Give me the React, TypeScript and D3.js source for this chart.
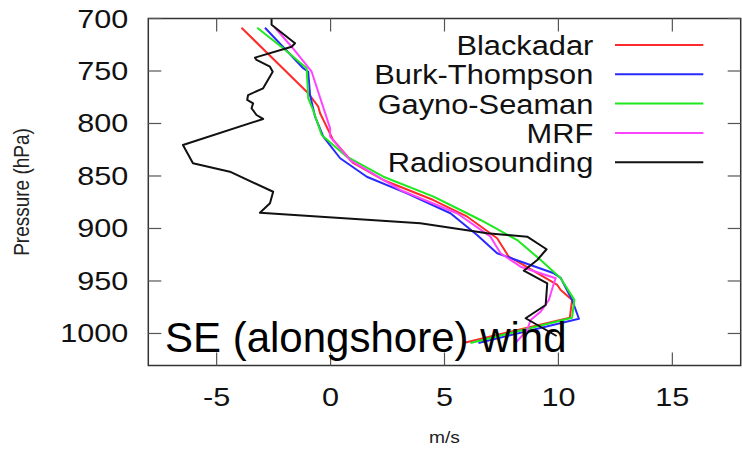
import React from 'react';
import * as d3 from 'd3';

// ---- data (wind speed m/s, pressure hPa) ----
const xTicks = [-5, 0, 5, 10, 15];
const yTicks = [700, 750, 800, 850, 900, 950, 1000];
const seriesNames = ['Blackadar', 'Burk-Thompson', 'Gayno-Seaman', 'MRF', 'Radiosounding'];
const seriesColors = ['#ff2a2a', '#2a2aff', '#1ee81e', '#ff44ff', '#111111'];

const blackadar: [number, number][] = [
  [-3.91, 708.8], [-0.98, 771.2], [-0.54, 784], [-0.46, 790.3], [0.11, 815.7], [0.99, 837.6],
  [2.31, 853.8], [4.51, 872.9], [6.0, 888.8], [7.31, 909.3], [7.82, 926.9], [8.48, 934.8],
  [9.95, 953.8], [10.1, 958.6], [10.6, 968], [10.5, 985], [5.83, 1009],
];
const burkThompson: [number, number][] = [
  [-2.88, 708.8], [-1.2, 747.4], [-0.98, 750.7], [-0.9, 772.9], [-0.68, 793.5], [-0.32, 812.6],
  [0.42, 833.1], [1.59, 850.7], [3.35, 866.5], [5.26, 885.5], [6.43, 906.2], [7.31, 923.6],
  [9.8, 942.7], [10.1, 947.1], [10.6, 968], [10.9, 986], [6.49, 1009],
];
const gaynoSeaman: [number, number][] = [
  [-3.22, 708.8], [-2.08, 728.4], [-1.05, 747.4], [-0.98, 776], [-0.77, 787.1], [-0.39, 811],
  [0.71, 831.6], [2.32, 850.7], [4.52, 869.7], [5.7, 882.4], [6.58, 891.9], [8.19, 911],
  [9.22, 930], [10.1, 947.4], [10.7, 968], [10.6, 985], [6.14, 1009],
];
const mrf: [number, number][] = [
  [-2.44, 708.8], [-1.71, 726.9], [-0.83, 750.7], [-0.02, 804.6], [-0.02, 812.6], [0.86, 834.8],
  [3.06, 863.3], [5.55, 885.5], [7.02, 907.8], [7.46, 923.6], [8.34, 936.4], [9.88, 947.4],
  [9.8, 952.2], [9.58, 968.1], [9.22, 979.2], [8.78, 987.1], [8.63, 996.7], [8.12, 1009],
];
const radiosounding: [number, number][] = [
  [-2.59, 700], [-2.59, 706], [-1.56, 723.6], [-1.71, 726.9], [-3.32, 737.3], [-3.25, 739.5],
  [-2.66, 745.9], [-2.54, 750.7], [-2.96, 766.5], [-3.62, 772.9], [-3.66, 777.6], [-3.4, 780.8],
  [-3.47, 785.5], [-3.25, 791.9], [-2.96, 795.7], [-6.48, 820.5], [-6.04, 837.9], [-4.42, 845.9],
  [-2.52, 865], [-2.66, 876], [-3.1, 885], [3.94, 895], [6.87, 904.6], [8.63, 907.8],
  [9.48, 919.8], [9.07, 930], [8.48, 940.2], [9.51, 952.2], [9.44, 972.9], [8.56, 985.5],
  [9.92, 1002.4],
];
const allSeries = [blackadar, burkThompson, gaynoSeaman, mrf, radiosounding];

const W = 742;
const H = 451;
const plotLeft = 148.3;
const plotRight = 740.7;
const plotTop = 18.5;
const plotBottom = 365.5;
const FONT = "'Liberation Sans', Arial, Helvetica, sans-serif";

export default function App() {
  const x = d3.scaleLinear().domain([-8, 18]).range([plotLeft, plotRight]);
  const y = d3.scaleLinear().domain([700, 1030.5]).range([plotTop, plotBottom]);
  const line = d3
    .line<[number, number]>()
    .x((d) => x(d[0]))
    .y((d) => y(d[1]));

  const tickLen = 13;
  const legendTextX = 593.3;
  const legendY0 = 45;
  const legendDY = 29.3;

  return (
    <svg
      width={W}
      height={H}
      style={{ position: 'absolute', left: 0, top: 0, background: '#fff' }}
      fontFamily={FONT}
    >
      <rect x={0} y={0} width={W} height={H} fill="#fff" />
      {/* lines */}
      <g clipPath="url(#clip)">
        {allSeries.map((s, i) => (
          <path key={i} d={line(s) || ''} fill="none" stroke={seriesColors[i]} strokeWidth={2} strokeLinejoin="round" />
        ))}
      </g>
      <defs>
        <clipPath id="clip">
          <rect x={plotLeft} y={plotTop} width={plotRight - plotLeft} height={plotBottom - plotTop} />
        </clipPath>
      </defs>
      {/* frame */}
      <rect
        x={plotLeft}
        y={plotTop}
        width={plotRight - plotLeft}
        height={plotBottom - plotTop}
        fill="none"
        stroke="#333"
        strokeWidth={1.5}
      />
      {/* x ticks */}
      {xTicks.map((t) => (
        <g key={'x' + t}>
          <line x1={x(t)} x2={x(t)} y1={plotBottom} y2={plotBottom - tickLen} stroke="#555" strokeWidth={1.2} />
          <line x1={x(t)} x2={x(t)} y1={plotTop} y2={plotTop + tickLen} stroke="#555" strokeWidth={1.2} />
          <text
            transform={`translate(${x(t)},${plotBottom + 40}) scale(1.2,1)`}
            textAnchor="middle"
            fontSize={25.5}
            fill="#111"
          >
            {t}
          </text>
        </g>
      ))}
      {/* y ticks */}
      {yTicks.map((t) => (
        <g key={'y' + t}>
          <line x1={plotLeft} x2={plotLeft + tickLen} y1={y(t)} y2={y(t)} stroke="#555" strokeWidth={1.2} />
          <line x1={plotRight} x2={plotRight - tickLen} y1={y(t)} y2={y(t)} stroke="#555" strokeWidth={1.2} />
          <text
            transform={`translate(128.3,${y(t) + 9}) scale(1.2,1)`}
            textAnchor="end"
            fontSize={25.5}
            fill="#111"
          >
            {t}
          </text>
        </g>
      ))}
      {/* axis titles */}
      <text
        transform={`translate(29,${(plotTop + plotBottom) / 2}) scale(1.2,1) rotate(-90)`}
        textAnchor="middle"
        fontSize={19}
        fill="#222"
      >
        Pressure (hPa)
      </text>
      <text
        transform={`translate(${(plotLeft + plotRight) / 2},443) scale(1.2,1)`}
        textAnchor="middle"
        fontSize={16}
        fill="#222"
      >
        m/s
      </text>
      {/* legend */}
      {seriesNames.map((n, i) => (
        <g key={n}>
          <text
            transform={`translate(${legendTextX},${legendY0 + i * legendDY + 10}) scale(1.1,1)`}
            textAnchor="end"
            fontSize={28}
            fill="#111"
          >
            {n}
          </text>
          <line
            x1={615}
            x2={703.3}
            y1={legendY0 + i * legendDY}
            y2={legendY0 + i * legendDY}
            stroke={seriesColors[i]}
            strokeWidth={2}
          />
        </g>
      ))}
      {/* annotation */}
      <text x={165} y={351.7} fontSize={42} fill="#000">
        SE (alongshore) wind
      </text>
    </svg>
  );
}
